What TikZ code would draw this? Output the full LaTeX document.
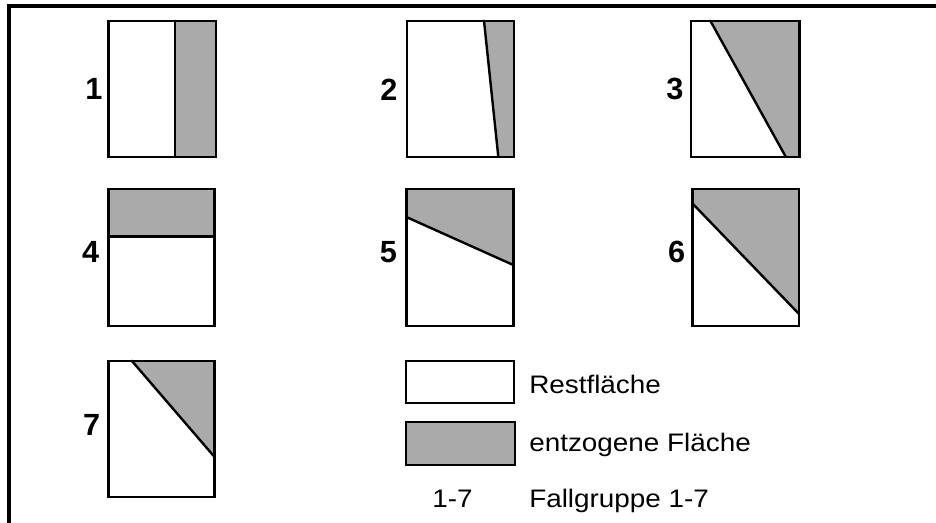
\documentclass[tikz,border=0pt]{standalone}
\usepackage{fontspec}
\setmainfont{Liberation Sans}
\definecolor{taken}{RGB}{170,170,170}
\begin{document}
\begin{tikzpicture}[x=0.75pt,y=-0.75pt,
  box/.style={draw=black,line width=1.8pt},
  cut/.style={draw=black,line width=1.8pt,line cap=round},
  num/.style={inner sep=0pt,anchor=base,font=\fontsize{23}{24}\selectfont\bfseries},
  leg/.style={inner sep=0pt,anchor=base west,font=\fontsize{19}{20}\selectfont}]
\useasboundingbox (0,0) rectangle (936,522);
\fill[white] (0,0) rectangle (936,522);
% frame (left and top edges)
\draw[line width=2.3pt] (9,530) -- (9,6) -- (945,6);

% 1
\fill[taken] (175,20.7) rectangle (215.7,156.7);
\draw[box] (108.3,20.7) rectangle (215.7,156.7);
\draw[cut] (175,20.7) -- (175,156.7);
\node[num] (n1) at (94,99.5) {1};
% 2
\fill[taken] (484,20.7) -- (513.7,20.7) -- (513.7,156.7) -- (498.3,156.7) -- cycle;
\draw[box] (407,20.7) rectangle (513.7,156.7);
\draw[cut] (484,20.7) -- (498.3,156.7);
\node[num] (n2) at (389,100) {2};
% 3
\fill[taken] (710.3,20.7) -- (799.3,20.7) -- (799.3,156.7) -- (785.7,156.7) -- cycle;
\draw[box] (691,20.7) rectangle (799.3,156.7);
\draw[cut] (710.3,20.7) -- (785.7,156.7);
\node[num] (n3) at (675,99.5) {3};
% 4
\fill[taken] (108.3,189) rectangle (214.3,236.3);
\draw[box] (108.3,189) rectangle (214.3,326);
\draw[cut] (108.3,236.3) -- (214.3,236.3);
\node[num] (n4) at (90.7,262) {4};
% 5
\fill[taken] (406.3,189) -- (513.3,189) -- (513.3,265) -- (406.3,217) -- cycle;
\draw[box] (406.3,189) rectangle (513.3,326);
\draw[cut] (406.3,217) -- (513.3,265);
\node[num] (n5) at (388.3,262) {5};
% 6
\fill[taken] (692.3,189) -- (799,189) -- (799,314) -- (692.3,203.3) -- cycle;
\draw[box] (692.3,189) rectangle (799,326);
\draw[cut] (692.3,203.3) -- (799,314);
\node[num] (n6) at (676.7,262) {6};
% 7
\fill[taken] (131.7,360.7) -- (214.3,360.7) -- (214.3,456.7) -- cycle;
\draw[box] (108.3,360.7) rectangle (214.3,496.7);
\draw[cut] (131.7,360.7) -- (214.3,456.7);
\node[num] (n7) at (91.7,435.5) {7};

% legend
\draw[box] (406,360.7) rectangle (514,402.7);
\draw[box,fill=taken] (406,422) rectangle (514.7,465);
\node[leg] (l1) at (529,393) {\scalebox{1.1}[1]{Restfläche}};
\node[leg] (l2) at (529,451) {\scalebox{1.1}[1]{entzogene Fläche}};
\node[leg] (l3) at (432,507) {\scalebox{1.1}[1]{1-7}};
\node[leg] (l4) at (529,507) {\scalebox{1.1}[1]{Fallgruppe 1-7}};
\end{tikzpicture}
\end{document}
